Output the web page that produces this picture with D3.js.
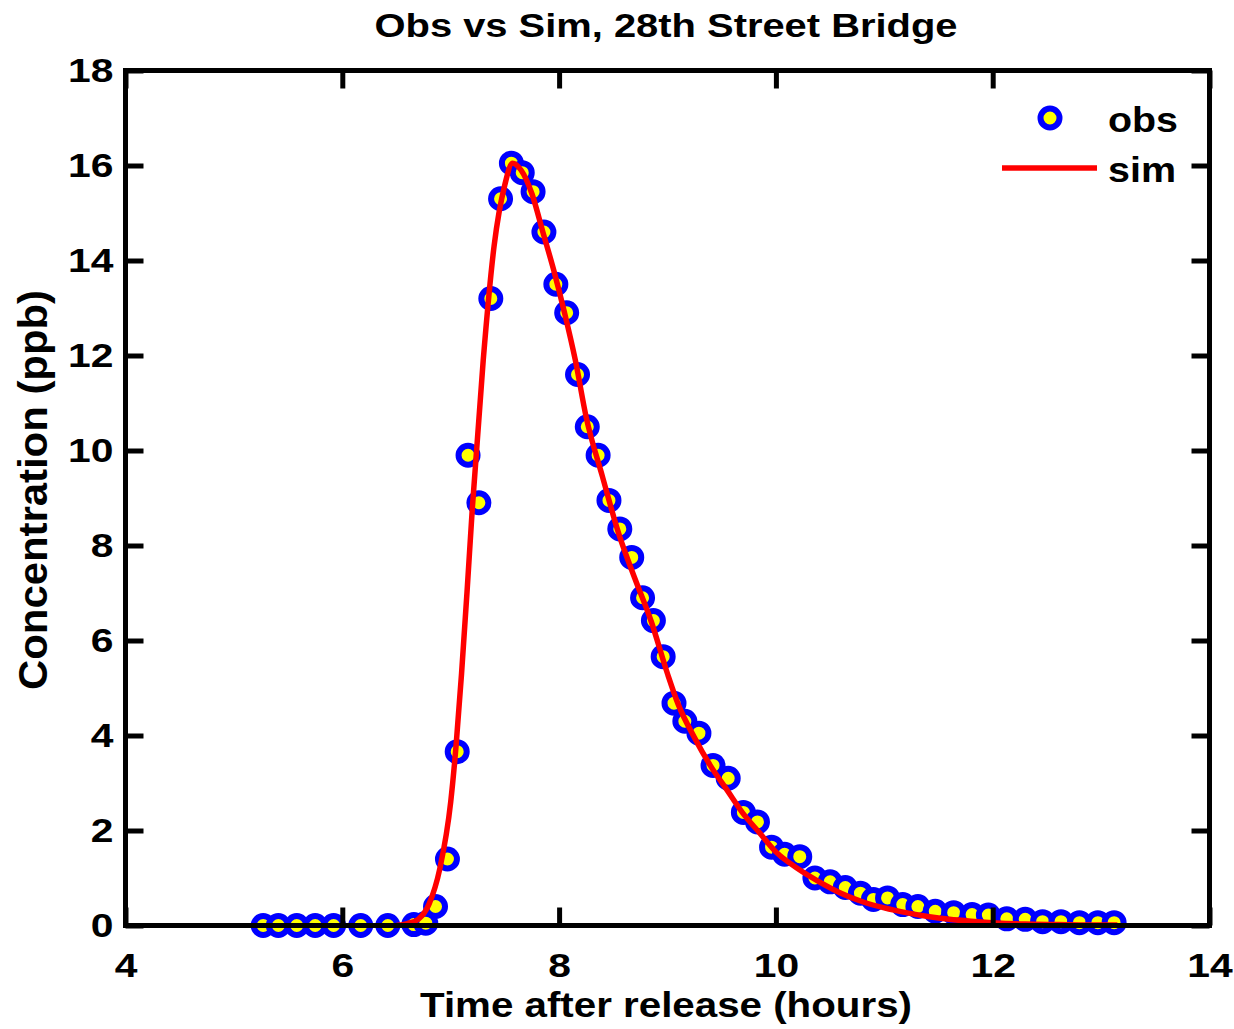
<!DOCTYPE html>
<html>
<head>
<meta charset="utf-8">
<script src="https://cdn.jsdelivr.net/npm/d3@7"></script>
<style>
  html,body{margin:0;padding:0;background:#fff;}
  svg text{font-family:"Liberation Sans",Arial,Helvetica,sans-serif;font-weight:bold;fill:#000;}
</style>
</head>
<body>
<svg id="chart" width="1234" height="1029"></svg>
<script>
// observed samples (hours, ppb)
var obsTime=[5.27,5.41,5.58,5.75,5.92,6.17,6.42,6.66,6.77,6.86,6.97,7.06,7.16,7.26,7.37,7.46,7.56,7.66,7.76,7.86,
  7.97,8.07,8.17,8.26,8.36,8.46,8.56,8.67,8.77,8.87,8.96,9.06,9.16,9.29,9.42,9.56,9.70,9.83,9.96,10.08,
  10.22,10.36,10.50,10.64,10.78,10.90,11.03,11.17,11.31,11.47,11.64,11.81,11.96,12.13,12.30,12.46,12.63,12.80,12.97,13.12];
var obsConc=[0,0,0,0,0,0,0,0.02,0.05,0.4,1.4,3.66,9.9,8.9,13.2,15.3,16.05,15.85,15.45,14.6,
  13.5,12.9,11.6,10.5,9.9,8.95,8.35,7.75,6.9,6.42,5.66,4.68,4.3,4.05,3.37,3.1,2.38,2.18,1.65,1.5,
  1.45,1.0,0.92,0.8,0.68,0.55,0.58,0.44,0.4,0.3,0.27,0.23,0.22,0.14,0.13,0.08,0.08,0.06,0.06,0.06];

// simulated curve
var simTime=[6.5,6.6,6.7,6.8,6.9,7.0,7.05,7.1,7.15,7.2,7.3,7.4,7.5,7.57,7.65,7.75,7.85,7.95,8.05,8.15,
  8.25,8.4,8.55,8.7,8.85,9.0,9.1,9.25,9.4,9.55,9.7,9.85,10.0,10.2,10.4,10.6,10.8,11.0,11.2,11.4,
  11.6,11.8,12.0,12.3,12.6,13.0,13.15];
var simConc=[0,0.04,0.13,0.45,1.2,2.6,3.8,5.3,7.0,8.8,11.9,14.3,15.6,16.05,15.9,15.4,14.6,13.8,12.9,11.9,
  10.7,9.45,8.25,7.3,6.4,5.3,4.65,3.95,3.35,2.85,2.35,1.95,1.55,1.2,0.92,0.68,0.5,0.37,0.27,0.19,
  0.13,0.09,0.06,0.03,0.02,0.01,0.01];

var xTicks=[4,6,8,10,12,14];
var yTicks=[0,2,4,6,8,10,12,14,16,18];

var M={left:125.5,top:70.5,right:1209.5,bottom:925.5};
var x=d3.scaleLinear().domain([4,14]).range([M.left,M.right]);
var y=d3.scaleLinear().domain([0,18]).range([M.bottom,M.top]);

var svg=d3.select("#chart");

// le rendu d'origine a un texte un peu étiré en largeur
function stretch(sel,k){
  sel.each(function(){
    var w=this.getComputedTextLength();
    d3.select(this).attr("textLength",w*k).attr("lengthAdjust","spacingAndGlyphs");
  });
}

// title
svg.append("text").attr("x",666).attr("y",37)
  .attr("text-anchor","middle").style("font-size","33px")
  .attr("textLength",583).attr("lengthAdjust","spacingAndGlyphs")
  .text("Obs vs Sim, 28th Street Bridge");

var plot=svg.append("g");

// obs markers
var obs=obsTime.map(function(t,i){return {t:t,v:obsConc[i]};});
plot.selectAll("circle.obs").data(obs).enter().append("circle")
  .attr("class","obs")
  .attr("cx",function(d){return x(d.t);})
  .attr("cy",function(d){return y(d.v);})
  .attr("r",9.5)
  .attr("fill","#ffff00").attr("stroke","#0000ff").attr("stroke-width",6);

// sim line
var sim=simTime.map(function(t,i){return {t:t,v:simConc[i]};});
plot.append("path").datum(sim)
  .attr("fill","none").attr("stroke","#ff0000").attr("stroke-width",5.5)
  .attr("stroke-linejoin","round")
  .attr("d",d3.line().x(function(d){return x(d.t);}).y(function(d){return y(d.v);}).curve(d3.curveMonotoneX));

// axes (drawn on top, ticks inward)
var tickLen=18;
var noLabel=function(){return "";};
var ax=svg.append("g");
var axB=d3.axisBottom(x).tickValues(xTicks).tickSizeInner(-tickLen).tickSizeOuter(0).tickPadding(27).tickFormat(d3.format("d"));
var axL=d3.axisLeft(y).tickValues(yTicks).tickSizeInner(-tickLen).tickSizeOuter(0).tickPadding(12).tickFormat(d3.format("d"));
var axT=d3.axisTop(x).tickValues(xTicks).tickSizeInner(-tickLen).tickSizeOuter(0).tickFormat(noLabel);
var axR=d3.axisRight(y).tickValues(yTicks).tickSizeInner(-tickLen).tickSizeOuter(0).tickFormat(noLabel);

ax.append("g").attr("class","ax-b").attr("transform","translate(0,"+M.bottom+")").call(axB);
ax.append("g").attr("class","ax-l").attr("transform","translate("+M.left+",0)").call(axL);
ax.append("g").attr("transform","translate(0,"+M.top+")").call(axT);
ax.append("g").attr("transform","translate("+M.right+",0)").call(axR);

ax.selectAll(".domain").remove();
ax.selectAll(".tick line").attr("stroke","#000").attr("stroke-width",5);
ax.selectAll(".tick text").style("font-size","34px").attr("fill","#000");
stretch(ax.selectAll(".ax-b .tick text, .ax-l .tick text"),1.2);

// frame box
ax.append("rect").attr("x",M.left).attr("y",M.top)
  .attr("width",M.right-M.left).attr("height",M.bottom-M.top)
  .attr("fill","none").attr("stroke","#000").attr("stroke-width",5);

// axis labels
svg.append("text").attr("x",666).attr("y",1017)
  .attr("text-anchor","middle").style("font-size","35px")
  .attr("textLength",492).attr("lengthAdjust","spacingAndGlyphs")
  .text("Time after release (hours)");
svg.append("text").attr("transform","translate(47,490) rotate(-90)")
  .attr("text-anchor","middle").style("font-size","40px")
  .attr("textLength",400).attr("lengthAdjust","spacingAndGlyphs")
  .text("Concentration (ppb)");

// legend
var lg=svg.append("g");
lg.append("circle").attr("cx",1050).attr("cy",118).attr("r",9.5)
  .attr("fill","#ffff00").attr("stroke","#0000ff").attr("stroke-width",6);
lg.append("text").attr("x",1108).attr("y",132).style("font-size","35px")
  .attr("textLength",70).attr("lengthAdjust","spacingAndGlyphs").text("obs");
lg.append("line").attr("x1",1002).attr("x2",1097).attr("y1",168).attr("y2",168)
  .attr("stroke","#ff0000").attr("stroke-width",5.5);
lg.append("text").attr("x",1108).attr("y",182).style("font-size","35px")
  .attr("textLength",68).attr("lengthAdjust","spacingAndGlyphs").text("sim");
</script>
</body>
</html>
